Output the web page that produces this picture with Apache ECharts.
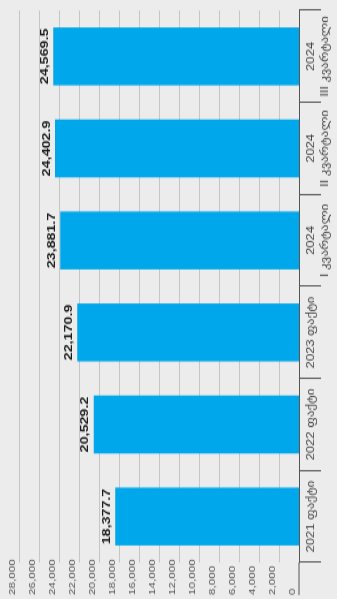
<!DOCTYPE html>
<html>
<head>
<meta charset="utf-8">
<script src="https://cdn.jsdelivr.net/npm/echarts@6/dist/echarts.min.js"></script>
<style>
  html, body { margin: 0; padding: 0; background: #ececec; }
  #wrap { position: relative; width: 337px; height: 599px; overflow: hidden; background: #ececec; }
  /* the chart is laid out lying on its side, then turned upright and stretched along its length */
  #chart {
    position: absolute; left: 0; top: 0;
    width: 460px; height: 337px;
    transform-origin: 0 0;
    transform: translate(0, 599px) rotate(-90deg) scale(1.3022, 1);
  }
</style>
</head>
<body>
<div id="wrap"><div id="chart"></div></div>
<script>
const categories = [
  '2021 ფაქტი',
  '2022 ფაქტი',
  '2023 ფაქტი',
  '2024\nI კვარტალი',
  '2024\nII კვარტალი',
  '2024\nIII კვარტალი'
];
const values = [18377.7, 20529.2, 22170.9, 23881.7, 24402.9, 24569.5];
const valueMin = 0;
const valueMax = 28000;
const valueStep = 2000;

const fontFamily = '"Liberation Sans", Arial, "DejaVu Sans", sans-serif';
const fmtInt = v => Number(v).toLocaleString('en-US');
const fmtOne = v => Number(v).toLocaleString('en-US', { minimumFractionDigits: 1, maximumFractionDigits: 1 });

const chart = echarts.init(document.getElementById('chart'), null, { renderer: 'canvas' });
chart.setOption({
  animation: false,
  backgroundColor: 'transparent',
  textStyle: { fontFamily },
  grid: { left: 28, right: 8, top: 19, bottom: 38, containLabel: false },
  xAxis: {
    type: 'category',
    data: categories,
    position: 'bottom',
    boundaryGap: true,
    axisLine: { show: true, lineStyle: { color: '#555', width: 1 } },
    axisTick: { show: true, length: 22, alignWithLabel: false, lineStyle: { color: '#555', width: 1 } },
    axisLabel: {
      interval: 0, margin: 5, fontSize: 10, lineHeight: 14,
      color: '#444', fontFamily, align: 'center', verticalAlign: 'top'
    },
    splitLine: { show: false }
  },
  yAxis: {
    type: 'value',
    min: valueMin, max: valueMax, interval: valueStep,
    position: 'left',
    axisLine: { show: false },
    axisTick: { show: false },
    axisLabel: {
      formatter: fmtInt, fontSize: 9, color: '#555', fontFamily,
      align: 'left', margin: 25, verticalAlign: 'bottom', lineHeight: 13
    },
    splitLine: { show: true, lineStyle: { color: '#c6c6c6', width: 1 } }
  },
  graphic: [{
    type: 'line',
    z: 10,
    shape: { x1: 3, y1: 299, x2: 28, y2: 299 },
    style: { stroke: '#555', lineWidth: 1 }
  }],
  series: [{
    type: 'bar',
    data: values,
    barCategoryGap: '37%',
    itemStyle: { color: '#00a7ea' },
    label: {
      show: true, position: 'top', distance: 3,
      formatter: p => fmtOne(p.value),
      fontSize: 11, fontWeight: 'bold', color: '#1a1a1a', fontFamily
    }
  }]
});
</script>
</body>
</html>
